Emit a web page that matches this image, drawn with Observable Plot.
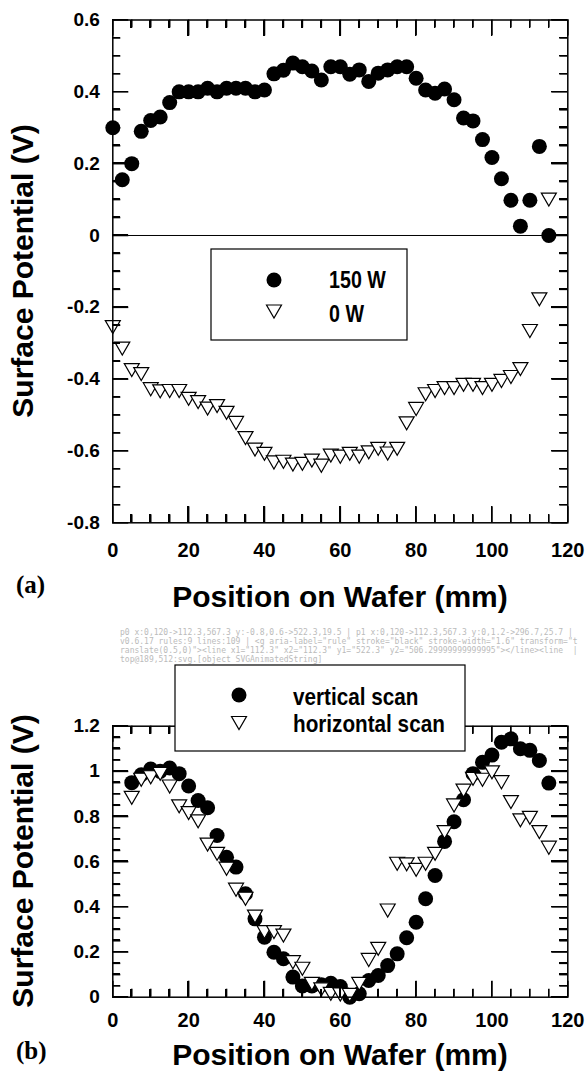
<!DOCTYPE html>
<html><head><meta charset="utf-8">
<script src="https://cdn.jsdelivr.net/npm/d3@7"></script>
<script src="https://cdn.jsdelivr.net/npm/@observablehq/plot@0.6"></script>
<style>
html,body{margin:0;padding:0;background:#fff;overflow:hidden;}
#page{position:relative;width:585px;height:1072px;overflow:hidden;background:#fff;}
#page > svg{position:absolute;left:0;background:transparent;overflow:visible;}
#page svg{font-family:'Liberation Sans', Arial, Helvetica, sans-serif;font-weight:bold;color:black;}
#page g[aria-label="x-axis tick label"]{font-size:20px;}
#page g[aria-label="y-axis tick label"]{font-size:19px;}
.tk{position:absolute;background:#000;z-index:5;}
#diag{position:absolute;left:120px;top:628px;width:460px;font:8px monospace;color:#bbb;white-space:pre-wrap;word-break:break-all;z-index:6;}
</style></head><body><div id="page"></div>
<script>
// ---------- data ----------
// Panel (a): position on wafer (mm)
const xA = [0,2.5,5,7.5,10,12.5,15,17.5,20,22.5,25,27.5,30,32.5,35,37.5,40,42.5,45,47.5,50,52.5,55,57.5,60,62.5,65,67.5,70,72.5,75,77.5,80,82.5,85,87.5,90,92.5,95,97.5,100,102.5,105,107.5,110,112.5,115];
const w150 = [0.30,0.155,0.20,0.29,0.32,0.33,0.37,0.40,0.40,0.40,0.41,0.40,0.41,0.41,0.41,0.40,0.405,0.45,0.46,0.48,0.47,0.458,0.433,0.47,0.47,0.449,0.461,0.429,0.452,0.461,0.47,0.47,0.438,0.405,0.396,0.408,0.378,0.327,0.319,0.267,0.217,0.158,0.098,0.026,0.098,0.248,0.0];
const w0 = [-0.255,-0.315,-0.375,-0.386,-0.428,-0.434,-0.433,-0.433,-0.455,-0.464,-0.482,-0.475,-0.494,-0.522,-0.564,-0.596,-0.608,-0.632,-0.630,-0.638,-0.636,-0.627,-0.641,-0.613,-0.616,-0.608,-0.616,-0.604,-0.594,-0.607,-0.594,-0.523,-0.483,-0.442,-0.433,-0.425,-0.425,-0.416,-0.416,-0.425,-0.416,-0.405,-0.394,-0.372,-0.266,-0.178,0.10];
// Panel (b)
const xB = [5,7.5,10,12.5,15,17.5,20,22.5,25,27.5,30,32.5,35,37.5,40,42.5,45,47.5,50,52.5,55,57.5,60,62.5,65,67.5,70,72.5,75,77.5,80,82.5,85,87.5,90,92.5,95,97.5,100,102.5,105,107.5,110,112.5,115];
const vertical = [0.95,0.985,1.01,1.0,1.015,0.99,0.935,0.871,0.839,0.716,0.62,0.576,0.458,0.347,0.266,0.199,0.17,0.089,0.05,0.05,0.055,0.062,0.047,0.0,0.015,0.074,0.096,0.14,0.192,0.263,0.332,0.436,0.539,0.69,0.777,0.874,0.99,1.04,1.072,1.129,1.144,1.10,1.093,1.048,0.948];
const horizontal = [0.883,0.963,0.974,0.989,0.933,0.845,0.815,0.779,0.676,0.635,0.569,0.476,0.436,0.357,0.288,0.288,0.273,0.155,0.126,0.059,0.035,0.015,0.012,0.01,0.059,0.165,0.214,0.384,0.591,0.588,0.564,0.591,0.635,0.731,0.849,0.915,0.967,0.963,0.996,0.952,0.864,0.783,0.794,0.731,0.662];

// ticks
const xMajor = [0,20,40,60,80,100,120];
const xMinor = [5,10,15,25,30,35,45,50,55,65,70,75,85,90,95,105,110,115];
const yMajorA = [-0.8,-0.6,-0.4,-0.2,0,0.2,0.4,0.6];
const yMinorA = [-0.75,-0.7,-0.65,-0.55,-0.5,-0.45,-0.35,-0.3,-0.25,-0.15,-0.1,-0.05,0.05,0.1,0.15,0.25,0.3,0.35,0.45,0.5,0.55];
const yMajorB = [0,0.2,0.4,0.6,0.8,1,1.2];
const yMinorB = [0.05,0.1,0.15,0.25,0.3,0.35,0.45,0.5,0.55,0.65,0.7,0.75,0.85,0.9,0.95,1.05,1.1,1.15];

// labels
const xTitle = "Position on Wafer (mm)";
const yTitle = "Surface Potential (V)";
const legendA = ["150 W", "0 W"];
const legendB = ["vertical scan", "horizontal scan"];

// ---------- drawing ----------
const FONT = "'Liberation Sans', Arial, Helvetica, sans-serif";
const page = document.getElementById("page");
const MAJ = 16, MIN = 8, TW = 1.6;
const diag = [];

const triDown = {
  draw(ctx, size) {
    const r = Math.sqrt(size / Math.PI), h = r * 0.866;
    ctx.moveTo(-r, -h); ctx.lineTo(r, -h); ctx.lineTo(0, h); ctx.closePath();
  }
};

const panels = [];
function panel({top, height, mt, mb, yDomain, yMajor, yMinor, xPad, filled, open, zero}) {
  const ml = 112.3, mr = 17.7, width = 585;
  const W = width - ml - mr, H = height - mt - mb;
  const xDomain = [0, 120];
  const [x0, x1] = xDomain;
  const [y0, y1] = yDomain;
  const ly = px => px * (y1 - y0) / H, lx = px => px * (x1 - x0) / W;
  const marks = [];
  [[xMajor, MAJ], [xMinor, MIN]].forEach(([t, L]) => marks.push(
    Plot.ruleX(t, {x: d => d, y1: y0, y2: y0 + ly(L), stroke: "black", strokeWidth: TW}),
    Plot.ruleX(t, {x: d => d, y1: y1, y2: y1 - ly(L), stroke: "black", strokeWidth: TW})));
  [[yMajor, MAJ], [yMinor, MIN]].forEach(([t, L]) => marks.push(
    Plot.ruleY(t, {y: d => d, x1: x0, x2: x0 + lx(L), stroke: "black", strokeWidth: TW}),
    Plot.ruleY(t, {y: d => d, x1: x1, x2: x1 - lx(L), stroke: "black", strokeWidth: TW})));
  if (zero) marks.push(Plot.ruleY([0], {stroke: "black", strokeWidth: 1}));
  marks.push(
    Plot.dot(filled, {x: "x", y: "v", r: 7.5, fill: "black", stroke: "none"}),
    Plot.dot(open, {x: "x", y: "v", r: 7.5, symbol: triDown, fill: "white", stroke: "black", strokeWidth: 1.2}),
    Plot.frame({stroke: "black", strokeWidth: 1.5})
  );
  const svg = Plot.plot({
    width, height, marginLeft: ml, marginRight: mr, marginTop: mt, marginBottom: mb,
    x: {domain: xDomain, ticks: xMajor, tickSize: 0, tickPadding: xPad, label: null, tickFormat: d => String(d)},
    y: {domain: yDomain, ticks: yMajor, tickSize: 0, tickPadding: 13, label: null, tickFormat: d => String(d)},
    marks
  });
  svg.style.top = top + "px";
  page.appendChild(svg);
  panels.push({svg, top, xDomain, yDomain, yMajor, yMinor});
}

const dataA150 = xA.map((x, i) => ({x, v: w150[i]}));
const dataA0 = xA.map((x, i) => ({x, v: w0[i]}));
const dataBv = xB.map((x, i) => ({x, v: vertical[i]}));
const dataBh = xB.map((x, i) => ({x, v: horizontal[i]}));

panel({top: 0, height: 568, mt: 19.5, mb: 45.7, yDomain: [-0.8, 0.6], yMajor: yMajorA, yMinor: yMinorA, xPad: 20, filled: dataA150, open: dataA0, zero: true});
panel({top: 700, height: 340, mt: 25.7, mb: 43.3, yDomain: [0, 1.2], yMajor: yMajorB, yMinor: yMinorB, xPad: 16, filled: dataBv, open: dataBh, zero: false});

// ---------- overlay: titles, panel labels, legends ----------
const ov = d3.select(page).append("svg")
  .attr("width", 585).attr("height", 1072)
  .style("position", "absolute").style("top", "0px").style("left", "0px")
  .attr("font-family", FONT).attr("font-weight", "bold");

[[607, 271], [1065, 861]].forEach(([xb, yc]) => {
  ov.append("text").attr("x", 340).attr("y", xb).attr("text-anchor", "middle")
    .attr("font-size", 30).attr("fill", "black").text(xTitle);
  ov.append("text").attr("transform", `translate(33,${yc}) rotate(-90)`).attr("text-anchor", "middle")
    .attr("font-size", 30).attr("fill", "black").text(yTitle);
});
[["(a)", 593], ["(b)", 1059]].forEach(([t, y]) => {
  ov.append("text").attr("x", 16).attr("y", y).attr("font-family", "'Liberation Serif', 'Times New Roman', serif")
    .attr("font-size", 25).attr("font-weight", "bold").attr("fill", "black").text(t);
});

const triPath = "M-7.5,-6.5L7.5,-6.5L0,6.5Z";
function legend({x, y, w, h, sx, rows, tx, fs, scale}) {
  ov.append("rect").attr("x", x).attr("y", y).attr("width", w).attr("height", h)
    .attr("fill", "white").attr("stroke", "black").attr("stroke-width", 1.2);
  rows.forEach((r, i) => {
    if (i === 0) ov.append("circle").attr("cx", sx).attr("cy", r.cy).attr("r", 7.5).attr("fill", "black");
    else ov.append("path").attr("d", triPath).attr("transform", `translate(${sx},${r.cy})`)
      .attr("fill", "white").attr("stroke", "black").attr("stroke-width", 1.2);
    ov.append("text").attr("transform", `translate(${tx},${r.base}) scale(${scale},1)`)
      .attr("font-size", fs).attr("fill", "black").text(r.label);
  });
}
legend({x: 211, y: 249, w: 196, h: 91, sx: 274, tx: 329, fs: 24, scale: 0.82,
  rows: [{cy: 280, base: 288, label: legendA[0]}, {cy: 311.5, base: 321.5, label: legendA[1]}]});
const legBRect = {x: 175, y: 665, w: 290, h: 86};
legend({...legBRect, sx: 239, tx: 293, fs: 23, scale: 0.9,
  rows: [{cy: 695, base: 705, label: legendB[0]}, {cy: 723, base: 732, label: legendB[1]}]});

// ---------- inward frame ticks as HTML elements, positioned through Plot's scales ----------
function hidden(x, y) { // top ticks under the (b) legend box stay hidden
  return x > legBRect.x && x < legBRect.x + legBRect.w && y > legBRect.y && y < legBRect.y + legBRect.h;
}
panels.forEach(({svg, top, xDomain, yDomain, yMajor, yMinor}, pi) => {
  let X, Y;
  try {
    const s1 = svg.scale("x"), s2 = svg.scale("y");
    const fx = d3.scaleLinear(s1.domain, s1.range), fy = d3.scaleLinear(s2.domain, s2.range);
    X = v => fx(v); Y = v => fy(v) + top;
    diag.push(`p${pi} x:${s1.domain}->${s1.range} y:${s2.domain}->${s2.range}`);
  } catch (e) { diag.push("scale err " + e.message); return; }
  const xl = X(xDomain[0]), xr = X(xDomain[1]), yb = Y(yDomain[0]), yt = Y(yDomain[1]);
  const box = (l, t, w, h) => {
    if (hidden(l + w / 2, t + h / 2)) return;
    const d = document.createElement("div");
    d.className = "tk";
    d.style.left = l + "px"; d.style.top = t + "px"; d.style.width = w + "px"; d.style.height = h + "px";
    page.appendChild(d);
  };
  [[xMajor, MAJ], [xMinor, MIN]].forEach(([t, L]) => t.forEach(v => {
    const x = X(v) - TW / 2;
    box(x, yb - L, TW, L); box(x, yt, TW, L);
  }));
  [[yMajor, MAJ], [yMinor, MIN]].forEach(([t, L]) => t.forEach(v => {
    const y = Y(v) - TW / 2;
    box(xl, y, L, TW); box(xr - L, y, L, TW);
  }));
});

// diagnostics (tiny, light): what Plot produced for the tick rules
try {
  const s = panels[0].svg;
  const rules = s.querySelectorAll('g[aria-label="rule"]');
  diag.push(`v${Plot.version} rules:${rules.length} lines:${s.querySelectorAll('g[aria-label="rule"] line').length}`);
  if (rules[0]) diag.push(rules[0].outerHTML.slice(0, 160));
  const el = document.elementFromPoint(189, 512);
  diag.push("top@189,512:" + (el ? el.tagName + "." + el.className : "none"));
} catch (e) { diag.push("diag err " + e.message); }
const dd = document.createElement("div"); dd.id = "diag"; dd.textContent = diag.join(" | "); page.appendChild(dd);
</script></body></html>
